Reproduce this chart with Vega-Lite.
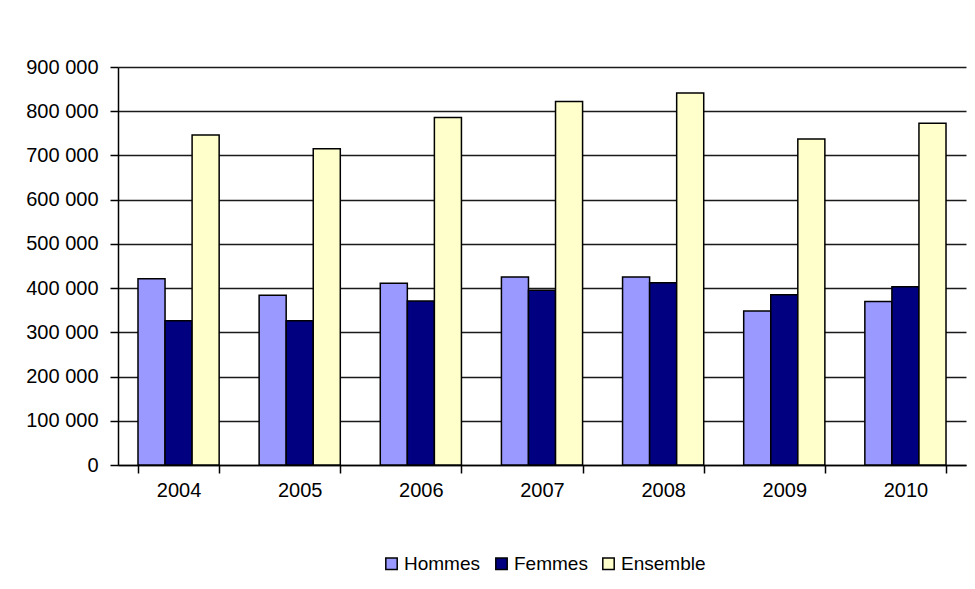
{
  "$schema": "https://vega.github.io/schema/vega-lite/v6.json",
  "width": 848,
  "height": 398,
  "autosize": "none",
  "padding": {"left": 118, "top": 67, "right": 9, "bottom": 124},
  "background": "white",
  "data": {
    "values": [
      {"annee": "2004", "serie": "Hommes", "valeur": 421000},
      {"annee": "2004", "serie": "Femmes", "valeur": 326000},
      {"annee": "2004", "serie": "Ensemble", "valeur": 746000},
      {"annee": "2005", "serie": "Hommes", "valeur": 384000},
      {"annee": "2005", "serie": "Femmes", "valeur": 326000},
      {"annee": "2005", "serie": "Ensemble", "valeur": 715000},
      {"annee": "2006", "serie": "Hommes", "valeur": 411000},
      {"annee": "2006", "serie": "Femmes", "valeur": 371000},
      {"annee": "2006", "serie": "Ensemble", "valeur": 786000},
      {"annee": "2007", "serie": "Hommes", "valeur": 425000},
      {"annee": "2007", "serie": "Femmes", "valeur": 395000},
      {"annee": "2007", "serie": "Ensemble", "valeur": 822000},
      {"annee": "2008", "serie": "Hommes", "valeur": 425000},
      {"annee": "2008", "serie": "Femmes", "valeur": 412000},
      {"annee": "2008", "serie": "Ensemble", "valeur": 841000},
      {"annee": "2009", "serie": "Hommes", "valeur": 348000},
      {"annee": "2009", "serie": "Femmes", "valeur": 385000},
      {"annee": "2009", "serie": "Ensemble", "valeur": 737000},
      {"annee": "2010", "serie": "Hommes", "valeur": 370000},
      {"annee": "2010", "serie": "Femmes", "valeur": 403000},
      {"annee": "2010", "serie": "Ensemble", "valeur": 773000}
    ]
  },
  "mark": {"type": "bar", "stroke": "black", "strokeWidth": 1.5},
  "encoding": {
    "x": {
      "field": "annee",
      "type": "nominal",
      "title": null,
      "scale": {"paddingInner": 0.33, "paddingOuter": 0.165},
      "axis": {
        "labelAngle": 0,
        "tickBand": "extent",
        "tickSize": 8,
        "labelPadding": 7,
        "grid": false
      }
    },
    "xOffset": {
      "field": "serie",
      "type": "nominal",
      "sort": ["Hommes", "Femmes", "Ensemble"],
      "scale": {"paddingInner": 0, "paddingOuter": 0}
    },
    "y": {
      "field": "valeur",
      "type": "quantitative",
      "title": null,
      "scale": {"domain": [0, 900000], "nice": false},
      "axis": {
        "values": [0, 100000, 200000, 300000, 400000, 500000, 600000, 700000, 800000, 900000],
        "labelExpr": "replace(format(datum.value, ','), ',', ' ')",
        "tickSize": 8,
        "labelPadding": 12,
        "grid": true,
        "gridColor": "#1a1a1a",
        "gridWidth": 1.3,
        "gridOpacity": 1
      }
    },
    "color": {
      "field": "serie",
      "type": "nominal",
      "scale": {
        "domain": ["Hommes", "Femmes", "Ensemble"],
        "range": ["#9999FF", "#000080", "#FFFFCC"]
      },
      "legend": {
        "title": null,
        "orient": "none",
        "direction": "horizontal",
        "legendX": 264,
        "legendY": 487,
        "symbolType": "square",
        "symbolSize": 130,
        "symbolStrokeColor": "black",
        "symbolStrokeWidth": 1.5,
        "symbolOpacity": 1,
        "labelFontSize": 19,
        "labelOffset": 3,
        "columnPadding": 11,
        "padding": 0
      }
    }
  },
  "config": {
    "font": "Liberation Sans",
    "view": {"stroke": null},
    "axis": {
      "labelFont": "Liberation Sans",
      "labelFontSize": 20,
      "labelColor": "black",
      "domainColor": "black",
      "domainWidth": 1.5,
      "tickColor": "black",
      "tickWidth": 1.5
    },
    "legend": {
      "labelFont": "Liberation Sans",
      "labelColor": "black"
    }
  }
}
